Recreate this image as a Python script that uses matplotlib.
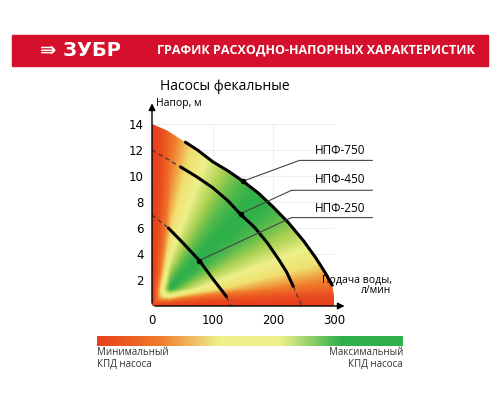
import numpy as np
import matplotlib.pyplot as plt
from matplotlib.colors import LinearSegmentedColormap
from matplotlib.patches import Polygon, Rectangle

# pump curves: flow (l/min) vs head (m)
q750 = [0, 25, 55, 75, 100, 125, 150, 175, 200, 225, 250, 270, 285, 297, 303]
h750 = [14, 13.5, 12.6, 12.0, 11.1, 10.4, 9.6, 8.7, 7.6, 6.4, 5.0, 3.7, 2.6, 1.6, 0]
q450 = [47, 75, 100, 125, 145, 170, 191, 210, 222, 233]
h450 = [10.7, 9.9, 9.1, 8.1, 7.1, 6.0, 4.8, 3.5, 2.6, 1.5]
q450_dash = [[0, 47], [233, 247]]
h450_dash = [[12, 10.7], [1.5, 0]]
q250 = [27, 50, 78, 100, 115, 123]
h250 = [6.0, 4.9, 3.5, 2.1, 1.2, 0.7]
q250_dash = [[0, 27], [123, 130]]
h250_dash = [[7, 6.0], [0.7, 0]]
labels = ['НПФ-750', 'НПФ-450', 'НПФ-250']
anchor_q = [150, 146, 78]
anchor_h = [9.6, 7.1, 3.5]
xticks = [0, 100, 200, 300]
yticks = [2, 4, 6, 8, 10, 12, 14]

cmap = LinearSegmentedColormap.from_list('kpd', ['#e8401c', '#f07a2a', '#f0e070', '#eef08a', '#a8d050', '#2fb04a'])

fig = plt.figure(figsize=(5, 4), dpi=100)
# header band
fig.patches.append(Rectangle((12/500, 1-66/400), 476/500, 31/400, transform=fig.transFigure,
                             color='#d5102c', zorder=0))
fig.text(40/500, 1-50/400, '⇛ ЗУБР', color='white', fontsize=14, fontweight='bold', va='center')
fig.text(157/500, 1-50/400, 'ГРАФИК РАСХОДНО-НАПОРНЫХ ХАРАКТЕРИСТИК', color='white',
         fontsize=9, fontweight='bold', va='center', family='Open Sans')
fig.text(225/500, 1-87/400, 'Насосы фекальные', fontsize=10, ha='center', va='center', family='Open Sans')

ax = fig.add_axes([152/500, 1-306/400, 182/500, 182/400])
ax.set_xlim(0, 300)
ax.set_ylim(0, 14)

# efficiency field, clipped by the outer curve
qq, hh = np.meshgrid(np.linspace(0, 310, 300), np.linspace(0, 14.5, 300))
th = np.arctan2(hh / 14, qq / 300)
v = np.sin(2 * th) ** 1.2 * np.clip(hh / 1.3, 0, 1) ** 0.8 * np.clip(qq / 30, 0, 1) ** 0.8
img = ax.imshow(v, extent=[0, 310, 0, 14.5], origin='lower', cmap=cmap, aspect='auto', zorder=1)
poly = Polygon(list(zip([0] + q750 + [0], [0] + h750 + [0])), transform=ax.transData, fill=False, lw=0)
ax.add_patch(poly)
img.set_clip_path(poly)

for g in xticks[1:]:
    ax.axvline(g, color='#eeeeee', lw=0.8, zorder=0)
for g in yticks:
    ax.axhline(g, color='#eeeeee', lw=0.8, zorder=0)

ax.plot(q750[2:-1], h750[2:-1], color='black', lw=2.2, zorder=3, solid_capstyle='round')
ax.plot(q450, h450, color='black', lw=2.2, zorder=3, solid_capstyle='round')
ax.plot(q250, h250, color='black', lw=2.2, zorder=3, solid_capstyle='round')
for qs, hs in zip(q450_dash + q250_dash, h450_dash + h250_dash):
    ax.plot(qs, hs, color='#333333', lw=0.8, ls=(0, (4, 3)), zorder=3)

text_h = [12.0, 9.7, 7.5]
line_h = [11.2, 8.9, 6.8]
line_q0 = [243, 230, 230]
for lab, aq, ah, th_, lh, lq in zip(labels, anchor_q, anchor_h, text_h, line_h, line_q0):
    ax.plot([aq, lq, 363], [ah, lh, lh], color='#444444', lw=0.8, zorder=4, clip_on=False)
    ax.text(268, th_, lab, fontsize=8.5, va='center', zorder=4, family='Open Sans')
    ax.plot(aq, ah, 'o', color='black', ms=3, zorder=4)

for s in ax.spines.values():
    s.set_visible(False)
ax.annotate('', xy=(0, 15.8), xytext=(0, 0), arrowprops=dict(arrowstyle='-|>', color='black', lw=1),
            annotation_clip=False)
ax.annotate('', xy=(322, 0), xytext=(0, 0), arrowprops=dict(arrowstyle='-|>', color='black', lw=1),
            annotation_clip=False)
ax.set_xticks(xticks)
ax.set_yticks(yticks)
ax.tick_params(length=0, labelsize=8.5, pad=6)
ax.text(6, 15.6, 'Напор, м', fontsize=7.5, va='center', family='Open Sans')
ax.text(395, 1.6, 'Подача воды,\nл/мин', fontsize=7.5, ha='right', va='center', family='Open Sans',
        linespacing=0.9)

# bottom efficiency bar
cax = fig.add_axes([97/500, 1-346/400, 306/500, 10/400])
cax.imshow(np.linspace(0, 1, 256)[None, :], cmap=LinearSegmentedColormap.from_list(
    'bar', ['#e8401c', '#f07a2a', '#eef08a', '#eef08a', '#2fb04a', '#2fb04a']), aspect='auto')
cax.axis('off')
fig.text(97/500, 1-347/400, 'Минимальный\nКПД насоса', fontsize=7, va='top', family='Open Sans',
         color='#333333', linespacing=1.1)
fig.text(403/500, 1-347/400, 'Максимальный\nКПД насоса', fontsize=7, va='top', ha='right',
         family='Open Sans', color='#333333', linespacing=1.1)

fig.savefig('out.png', dpi=100)
